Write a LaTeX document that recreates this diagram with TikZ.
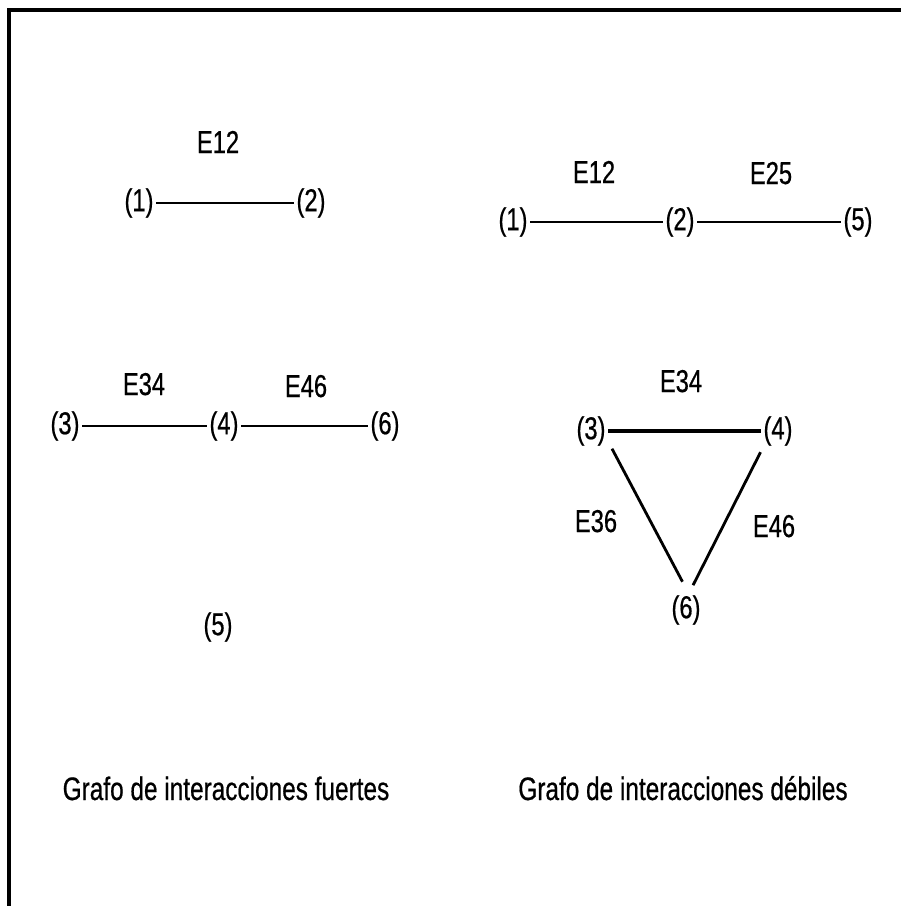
\documentclass[tikz,border=0pt]{standalone}
\usepackage{fontspec}
\setmainfont[FakeStretch=0.75,FakeBold=0.6]{Liberation Sans}
\tikzset{
  vtx/.style={inner sep=1.5pt,font=\fontsize{18}{20}\selectfont},
  e_lbl/.style={anchor=base,inner sep=0pt,font=\fontsize{18}{20}\selectfont},
  cap_lbl/.style={anchor=base,inner sep=0pt,font=\fontsize{18.5}{20}\selectfont},
  edge/.style={draw=black,line width=1.6pt},
  edge_thick/.style={draw=black,line width=2.3pt},
}
\begin{document}
\begin{tikzpicture}[x=0.02cm,y=-0.02cm]
  \useasboundingbox (0,0) rectangle (901,906);
  \draw[line width=2pt] (9,906) -- (9,10) -- (901,10);
  % strong interactions
  \node[vtx] (f1) at (139,203) {(1)};
  \node[vtx] (f2) at (311,203) {(2)};
  \node[vtx] (f3) at (65,426) {(3)};
  \node[vtx] (f4) at (224,426) {(4)};
  \node[vtx] (f6) at (385,426) {(6)};
  \node[vtx] (f5) at (218,627) {(5)};
  \node[e_lbl] (fe12) at (218,153) {E12};
  \node[e_lbl] (fe34) at (144,395) {E34};
  \node[e_lbl] (fe46) at (306,397) {E46};
  \draw[edge](f1)--(f2);\draw[edge](f3)--(f4);\draw[edge](f4)--(f6);
  % weak interactions
  \node[vtx] (d1) at (513,222) {(1)};
  \node[vtx] (d2) at (680,222) {(2)};
  \node[vtx] (d5) at (858,222) {(5)};
  \node[vtx] (d3) at (591,431) {(3)};
  \node[vtx] (d4) at (778,431) {(4)};
  \node[vtx] (d6) at (686,610) {(6)};
  \node[e_lbl] (de12) at (594,183) {E12};
  \node[e_lbl] (de25) at (771,184) {E25};
  \node[e_lbl] (de34) at (681,392) {E34};
  \node[e_lbl] (de36) at (596,532) {E36};
  \node[e_lbl] (de46) at (774,537) {E46};
  \draw[edge](d1)--(d2);\draw[edge](d2)--(d5);
  \draw[edge_thick](d3)--(d4);
  \draw[edge]([xshift=2pt]d3.south east)--([xshift=-2pt,yshift=6pt]d6.north);
  \draw[edge]([yshift=-2pt]d4.south west)--([xshift=4pt,yshift=4pt]d6.north);
  % captions
  \node[cap_lbl] (cap_f) at (226,800) {Grafo de interacciones fuertes};
  \node[cap_lbl] (cap_d) at (683,800) {Grafo de interacciones débiles};
\end{tikzpicture}
\end{document}
